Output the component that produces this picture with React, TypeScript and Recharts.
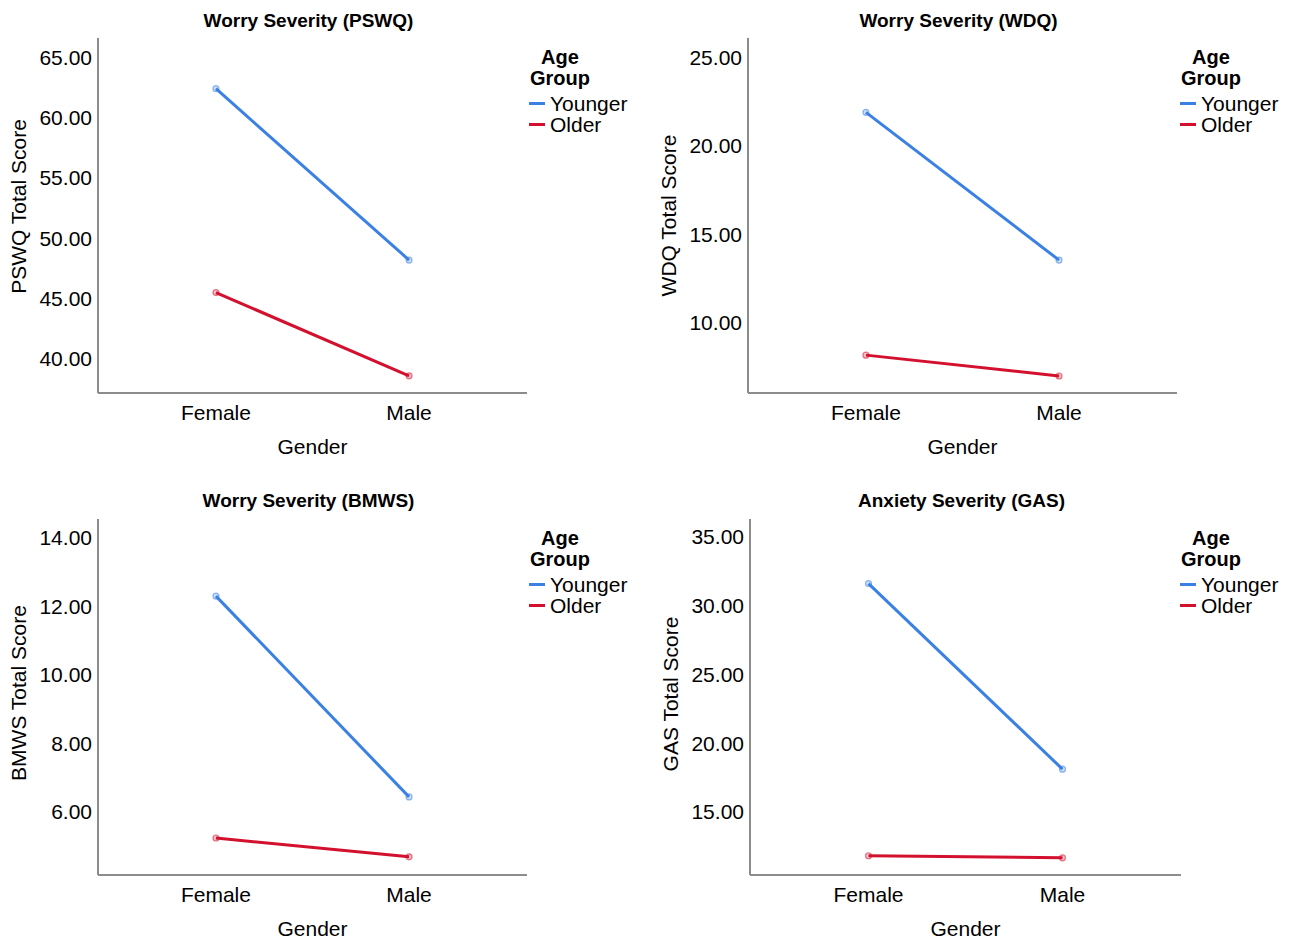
import React from 'react';
import { LineChart, Line, XAxis, YAxis, Legend, Label } from 'recharts';

// ---- Data ----
const categories = ['Female', 'Male'];
const seriesNames = ['Younger', 'Older'];
const seriesColors = ['#3b80e3', '#d3102e'];

const pswqYounger = [62.4, 48.2];
const pswqOlder = [45.5, 38.6];
const wdqYounger = [21.9, 13.55];
const wdqOlder = [8.18, 7.0];
const bmwsYounger = [12.3, 6.44];
const bmwsOlder = [5.24, 4.69];
const gasYounger = [31.6, 18.1];
const gasOlder = [11.8, 11.65];

const pswqTicks = [40, 45, 50, 55, 60, 65];
const wdqTicks = [10, 15, 20, 25];
const bmwsTicks = [6, 8, 10, 12, 14];
const gasTicks = [15, 20, 25, 30, 35];

const titles = ['Worry Severity (PSWQ)', 'Worry Severity (WDQ)', 'Worry Severity (BMWS)', 'Anxiety Severity (GAS)'];
const yLabels = ['PSWQ Total Score', 'WDQ Total Score', 'BMWS Total Score', 'GAS Total Score'];
const xLabel = 'Gender';
const legendTitle = ['Age', 'Group'];

const buildData = (younger: number[], older: number[]) =>
  categories.map((c, i) => ({ idx: i, name: c, Younger: younger[i], Older: older[i] }));

const FONT = 'Liberation Sans, Arial, Helvetica, sans-serif';
const AXIS_COLOR = '#8c8c8c';

type PanelProps = {
  ox: number; oy: number;
  plotLeft: number; plotTop: number; plotW: number; plotH: number;
  legendLeft: number;
  data: any[]; domain: [number, number]; ticks: number[];
  title: string; yLabel: string; yLabelShift: number;
};

const W = 646;
const H = 470;
const YW = 60;
const XH = 60;

const LegendContent = () => (
  <div style={{ fontFamily: FONT, color: '#000', lineHeight: '21px' }}>
    <div style={{ fontWeight: 'bold', fontSize: 20, textAlign: 'center', width: 62, marginBottom: 4 }}>
      <div>{legendTitle[0]}</div>
      <div>{legendTitle[1]}</div>
    </div>
    {seriesNames.map((s, i) => (
      <div key={s} style={{ display: 'flex', alignItems: 'center', fontSize: 21, height: 21 }}>
        <span style={{ display: 'inline-block', width: 16, height: 3, background: seriesColors[i], marginRight: 5 }} />
        <span>{s}</span>
      </div>
    ))}
  </div>
);

const Panel = (p: PanelProps) => {
  const relLeft = p.plotLeft - p.ox;
  const relTop = p.plotTop - p.oy;
  const margin = {
    top: relTop,
    left: relLeft - YW,
    right: W - relLeft - p.plotW,
    bottom: H - relTop - p.plotH - XH,
  };
  const yLab = (props: any) => {
    const vb = props.viewBox || {};
    const cx = vb.x - 20;
    const cy = vb.y + vb.height / 2 + p.yLabelShift;
    return (
      <text x={cx} y={cy} transform={`rotate(-90 ${cx} ${cy})`} textAnchor="middle" dominantBaseline="central"
        fontFamily={FONT} fontSize={21} fill="#000">{p.yLabel}</text>
    );
  };
  const xLab = (props: any) => {
    const vb = props.viewBox || {};
    const cx = vb.x + vb.width / 2;
    const cy = vb.y + 53;
    return (
      <text x={cx} y={cy} textAnchor="middle" dominantBaseline="central" fontFamily={FONT} fontSize={21} fill="#000">{xLabel}</text>
    );
  };
  return (
    <div style={{ position: 'absolute', left: p.ox, top: p.oy, width: W, height: H }}>
      <div style={{ position: 'absolute', left: relLeft, width: p.plotW, top: 7, textAlign: 'center', fontFamily: FONT, fontWeight: 'bold', fontSize: 19, color: '#000', lineHeight: '28px', transform: 'translateX(-4px)' }}>
        {p.title}
      </div>
      <LineChart width={W} height={H} data={p.data} margin={margin}>
        <XAxis
          dataKey="idx"
          type="number"
          domain={[-0.611, 1.611]}
          ticks={[0, 1]}
          tickFormatter={(v: number) => categories[v]}
          height={XH}
          tickLine={false}
          tickSize={0}
          tickMargin={12}
          axisLine={{ stroke: AXIS_COLOR, strokeWidth: 2 }}
          tick={{ fill: '#000', fontSize: 21, fontFamily: FONT }}
          allowDataOverflow
        >
          <Label content={xLab} />
        </XAxis>
        <YAxis
          type="number"
          domain={p.domain}
          ticks={p.ticks}
          tickFormatter={(v: number) => v.toFixed(2)}
          width={YW}
          tickLine={false}
          tickSize={0}
          tickMargin={6}
          axisLine={{ stroke: AXIS_COLOR, strokeWidth: 2 }}
          tick={{ fill: '#000', fontSize: 21, fontFamily: FONT }}
          allowDataOverflow
        >
          <Label content={yLab} />
        </YAxis>
        <Legend
          layout="vertical"
          align="center"
          verticalAlign="middle"
          content={LegendContent}
          wrapperStyle={{ left: p.legendLeft - p.ox, top: relTop + 9, right: 'auto', bottom: 'auto', width: 'auto' }}
        />
        {seriesNames.map((s, i) => (
          <Line
            key={s}
            type="linear"
            dataKey={s}
            stroke={seriesColors[i]}
            strokeWidth={3}
            isAnimationActive={false}
            dot={{ r: 3, fill: seriesColors[i], fillOpacity: 0.25, stroke: seriesColors[i], strokeOpacity: 0.55, strokeWidth: 1.2 }}
            activeDot={false}
          />
        ))}
      </LineChart>
    </div>
  );
};

export default function App() {
  return (
    <div style={{ position: 'absolute', left: 0, top: 0, width: 1293, height: 941, background: '#fff' }}>
      <Panel ox={0} oy={0} plotLeft={98} plotTop={38} plotW={429} plotH={355} legendLeft={529}
        data={buildData(pswqYounger, pswqOlder)} domain={[37.18, 66.6]} ticks={pswqTicks}
        title={titles[0]} yLabel={yLabels[0]} yLabelShift={-9} />
      <Panel ox={650} oy={0} plotLeft={748} plotTop={38} plotW={429} plotH={355} legendLeft={1180}
        data={buildData(wdqYounger, wdqOlder)} domain={[6.04, 26.1]} ticks={wdqTicks}
        title={titles[1]} yLabel={yLabels[1]} yLabelShift={0} />
      <Panel ox={0} oy={480} plotLeft={98} plotTop={519} plotW={429} plotH={356} legendLeft={529}
        data={buildData(bmwsYounger, bmwsOlder)} domain={[4.16, 14.55]} ticks={bmwsTicks}
        title={titles[2]} yLabel={yLabels[2]} yLabelShift={-4} />
      <Panel ox={650} oy={480} plotLeft={750} plotTop={519} plotW={431} plotH={356} legendLeft={1180}
        data={buildData(gasYounger, gasOlder)} domain={[10.4, 36.3]} ticks={gasTicks}
        title={titles[3]} yLabel={yLabels[3]} yLabelShift={-3} />
    </div>
  );
}
